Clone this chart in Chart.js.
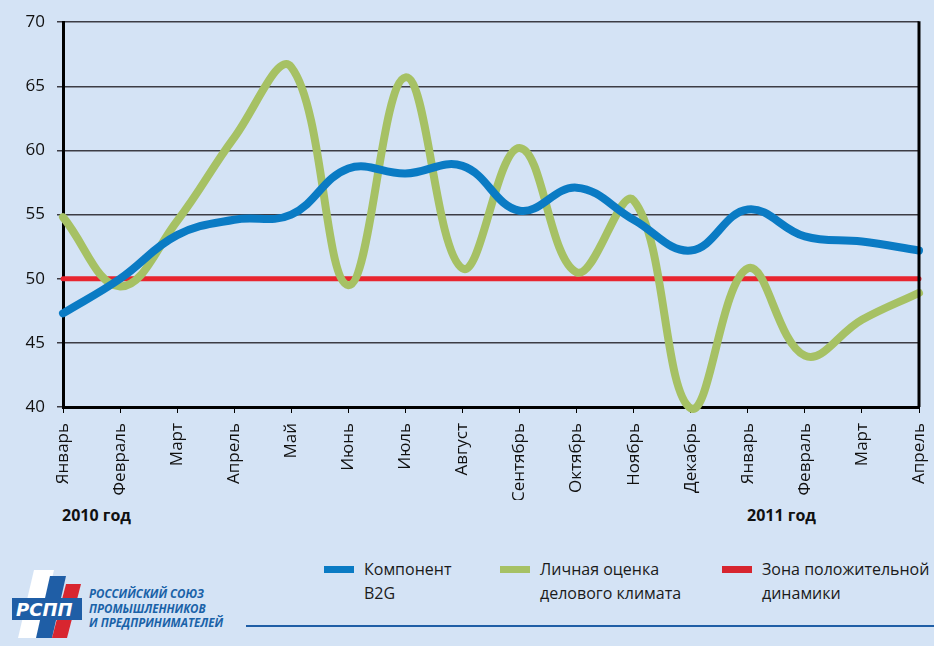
<!DOCTYPE html>
<html><head><meta charset="utf-8">
<script src="https://cdn.jsdelivr.net/npm/chart.js@4/dist/chart.umd.min.js"></script>
<style>
html,body{margin:0;padding:0;}
body{width:934px;height:646px;background:#d4e3f5;position:relative;overflow:hidden;font-family:"Open Sans",sans-serif;color:#1a1a1a;}
#wrap{position:absolute;left:0;top:0;width:934px;height:500px;}
.year{position:absolute;top:504px;font-weight:bold;font-size:16px;color:#111;}
.leg{position:absolute;top:557px;font-size:16px;line-height:24px;color:#1a1a1a;}
.sw{position:absolute;left:-40px;top:9px;width:30px;height:7px;}
#rule{position:absolute;left:246px;top:625px;width:688px;height:2px;background:#1f5ea6;}
.logotxt{position:absolute;left:89px;top:587px;font-size:11.5px;line-height:14.5px;font-weight:bold;font-style:italic;color:#1a62a8;}
</style></head><body>
<div id="wrap"><canvas id="c" width="934" height="500"></canvas></div>
<div class="year" style="left:62px">2010 год</div>
<div class="year" style="left:747px">2011 год</div>
<div class="leg" style="left:364px"><div class="sw" style="background:#0a7bc4"></div>Компонент<br>B2G</div>
<div class="leg" style="left:540px"><div class="sw" style="background:#a6c164"></div>Личная оценка<br>делового климата</div>
<div class="leg" style="left:762px"><div class="sw" style="background:#d7252f"></div>Зона положительной<br>динамики</div>
<div id="rule"></div>
<svg style="position:absolute;left:8px;top:568px" width="80" height="74" viewBox="0 0 80 74">
  <polygon points="26,2 46,2 30,70 10,70" fill="#ffffff"/>
  <polygon points="42,8 58,8 44,70 28,70" fill="#1f5ea6"/>
  <polygon points="58,16 73,16 59,70 44,70" fill="#d8262f"/>
  <rect x="4" y="30" width="70" height="22" fill="#1f5ea6"/>
  <text x="8" y="48" font-family="DejaVu Sans" font-weight="bold" font-style="italic" font-size="18" fill="#ffffff">РСПП</text>
</svg>
<div class="logotxt">РОССИЙСКИЙ СОЮЗ<br>ПРОМЫШЛЕННИКОВ<br>И ПРЕДПРИНИМАТЕЛЕЙ</div>
<script>
const months = ['Январь','Февраль','Март','Апрель','Май','Июнь','Июль','Август','Сентябрь','Октябрь','Ноябрь','Декабрь','Январь','Февраль','Март','Апрель'];
const b2g = [47.3, 50.0, 53.4, 54.6, 55.0, 58.6, 58.2, 58.8, 55.3, 57.1, 54.6, 52.2, 55.4, 53.3, 52.9, 52.2];
const climate = [54.8, 49.4, 54.5, 61.0, 66.5, 49.5, 65.7, 50.8, 60.2, 50.5, 56.1, 39.9, 50.8, 44.0, 46.8, 48.9];
const positive = [50, 50, 50, 50, 50, 50, 50, 50, 50, 50, 50, 50, 50, 50, 50, 50];
const yTicks = [40, 45, 50, 55, 60, 65, 70];

const frame = {
  id:'frame',
  afterDraw(chart){
    const {ctx, chartArea:a} = chart;
    ctx.save();
    ctx.strokeStyle = '#000'; ctx.lineWidth = 3;
    ctx.beginPath(); ctx.moveTo(a.right, a.top - 1); ctx.lineTo(a.right, a.bottom); ctx.stroke();
    ctx.restore();
  }
};

new Chart(document.getElementById('c'), {
  type:'line',
  data:{
    labels: months,
    datasets:[
      {label:'Компонент B2G', data:b2g, borderColor:'#0a7bc4', borderWidth:8, tension:0.4, pointRadius:0, borderCapStyle:'round', clip:false},
      {label:'Личная оценка делового климата', data:climate, borderColor:'#a6c164', borderWidth:8, tension:0.4, pointRadius:0, borderCapStyle:'round', clip:false},
      {label:'Зона положительной динамики', data:positive, borderColor:'#e8252f', borderWidth:5, tension:0, pointRadius:0, borderCapStyle:'round', clip:false}
    ]
  },
  options:{
    responsive:false, animation:false,
    layout:{padding:{top:22, right:15, left:0, bottom:0}},
    plugins:{legend:{display:false}, tooltip:{enabled:false}},
    scales:{
      x:{
        offset:false,
        afterFit(s){ s.height = 93; s.paddingRight = 0; s.paddingLeft = 0; },
        grid:{display:true, drawOnChartArea:false, drawTicks:true, tickLength:6, color:'#000', lineWidth:1},
        border:{display:true, color:'#000', width:3},
        ticks:{minRotation:90, maxRotation:90, autoSkip:false, color:'#111', padding:10, font:{family:'Open Sans', size:17}}
      },
      y:{
        min:40, max:70,
        afterFit(s){ s.width = 63; },
        afterBuildTicks(s){ s.ticks = yTicks.map(v=>({value:v})); },
        grid:{display:true, drawOnChartArea:true, drawTicks:true, tickLength:6, color:'#3c3c44', lineWidth:1.5},
        border:{display:true, color:'#000', width:3},
        ticks:{color:'#111', padding:12, font:{family:'Open Sans', size:17}}
      }
    }
  },
  plugins:[frame]
});
</script>
</body></html>
